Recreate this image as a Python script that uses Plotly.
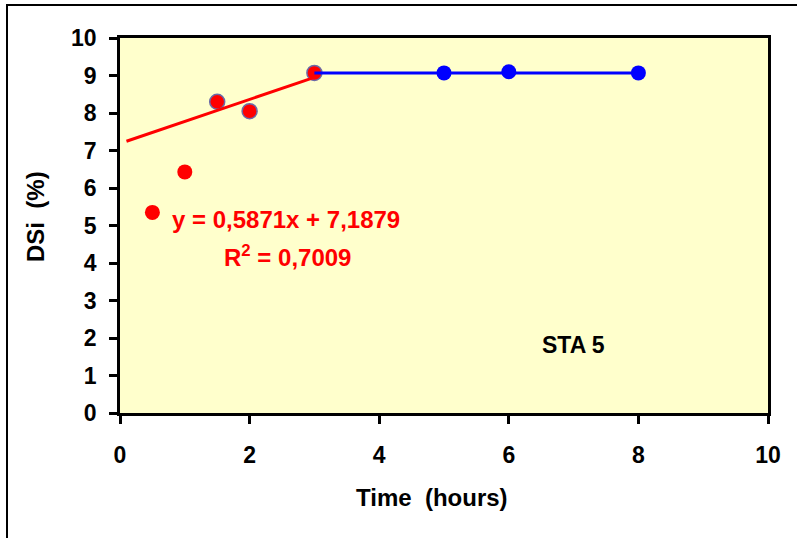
import plotly.graph_objects as go

# Data
red_x = [0.5, 1.0, 1.5, 2.0, 3.0]
red_y = [5.35, 6.43, 8.30, 8.05, 9.07]
red_outline = ["rgba(0,0,0,0)", "rgba(0,0,0,0)", "#6a6aa8", "#6a6aa8", "#6a6aa8"]

plateau_x = [3.0, 5.0, 6.0, 8.0]
plateau_y = [9.07, 9.07, 9.09, 9.07]
blue_x = [5.0, 6.0, 8.0]
blue_y = [9.07, 9.10, 9.07]

slope = 0.5871
intercept = 7.1879
r2 = 0.7009
trend_x = [0.1, 3.0]
trend_y = [slope * v + intercept for v in trend_x]

FONT = "Liberation Sans, Arial, sans-serif"

fig = go.Figure()
fig.add_trace(go.Scatter(x=red_x, y=red_y, mode="markers",
                         marker=dict(color="#FF0000", size=15,
                                     line=dict(color=red_outline, width=1.5)),
                         showlegend=False))
fig.add_trace(go.Scatter(x=trend_x, y=trend_y, mode="lines",
                         line=dict(color="#FF0000", width=3), showlegend=False))
fig.add_trace(go.Scatter(x=plateau_x, y=plateau_y, mode="lines",
                         line=dict(color="#0000FF", width=3), showlegend=False))
fig.add_trace(go.Scatter(x=blue_x, y=blue_y, mode="markers",
                         marker=dict(color="#0000FF", size=15),
                         showlegend=False))

axis_common = dict(showline=True, linecolor="black", linewidth=2.5, mirror=True,
                   ticks="outside", ticklen=8, tickwidth=2.5, tickcolor="black",
                   showgrid=False, zeroline=False,
                   tickfont=dict(family=FONT, size=23, color="black", weight="bold"))

fig.update_xaxes(range=[0, 10], dtick=2, tick0=0, ticklabelstandoff=12, **axis_common)
fig.update_yaxes(range=[0, 10], dtick=1, tick0=0, ticklabelstandoff=8, **axis_common)

pw, ph = 648.0, 375.0
def px_x(p):
    return (p - 120) / pw
def px_y(p):
    return (413 - p) / ph

annotations = [
    dict(text="Time  (hours)", x=px_x(432), y=px_y(498), xref="paper", yref="paper",
         showarrow=False, font=dict(family=FONT, size=24, color="black", weight="bold"),
         xanchor="center", yanchor="middle"),
    dict(text="DSi  (%)", x=px_x(35), y=px_y(217), xref="paper", yref="paper",
         showarrow=False, textangle=-90,
         font=dict(family=FONT, size=24, color="black", weight="bold"),
         xanchor="center", yanchor="middle"),
    dict(text=f"y = {slope:.4f}x + {intercept:.4f}".replace(".", ","),
         x=2.554, y=5.17, xref="x", yref="y", showarrow=False,
         font=dict(family=FONT, size=24, color="#FF0000", weight="bold"),
         xanchor="center", yanchor="middle"),
    dict(text=f"R<sup>2</sup> = {r2:.4f}".replace(".", ","),
         x=2.59, y=4.18, xref="x", yref="y", showarrow=False,
         font=dict(family=FONT, size=24, color="#FF0000", weight="bold"),
         xanchor="center", yanchor="middle"),
    dict(text="STA 5", x=7.006, y=1.81, xref="x", yref="y", showarrow=False,
         font=dict(family=FONT, size=23, color="black", weight="bold"),
         xanchor="center", yanchor="middle"),
]

fig.update_layout(
    width=797, height=538,
    margin=dict(l=120, r=29, t=38, b=125),
    paper_bgcolor="white", plot_bgcolor="#FFFFCC",
    annotations=annotations,
    shapes=[dict(type="rect", xref="paper", yref="paper",
                 x0=px_x(7), x1=px_x(802), y0=px_y(545), y1=px_y(5),
                 line=dict(color="black", width=2), layer="below")],
)

fig.write_html("out.html")
